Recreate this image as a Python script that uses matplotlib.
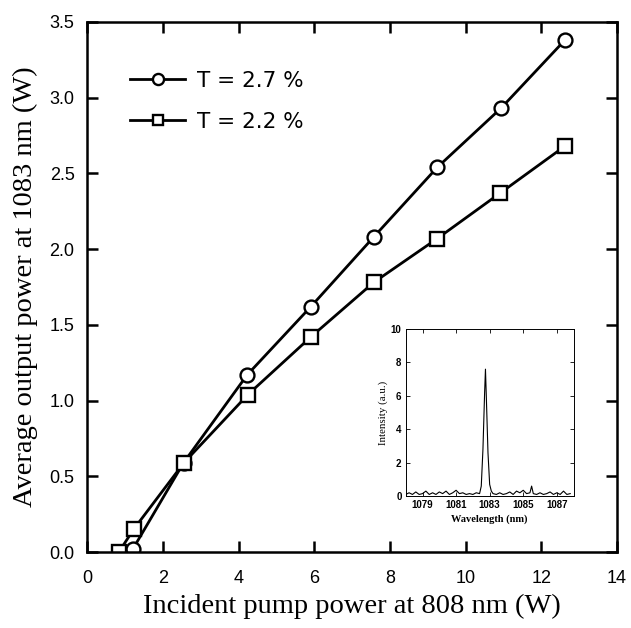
import matplotlib
matplotlib.use("Agg")
from matplotlib import pyplot as plt

# main curves
pump_27 = [1.21, 2.55, 4.23, 5.91, 7.57, 9.25, 10.93, 12.62]
power_27 = [0.02, 0.59, 1.17, 1.62, 2.08, 2.54, 2.93, 3.38]
pump_22 = [0.84, 1.23, 2.56, 4.25, 5.91, 7.57, 9.25, 10.91, 12.62]
power_22 = [0.0, 0.15, 0.59, 1.04, 1.42, 1.78, 2.07, 2.37, 2.68]

# inset spectrum, read by eye
wavelength = [1078.0, 1078.2, 1078.4, 1078.6, 1078.8, 1079.0, 1079.2, 1079.4,
              1079.6, 1079.8, 1080.0, 1080.2, 1080.4, 1080.6, 1080.8, 1081.0,
              1081.2, 1081.4, 1081.6, 1081.8, 1082.0, 1082.2, 1082.4, 1082.5,
              1082.6, 1082.7, 1082.75, 1082.8, 1082.9, 1083.0, 1083.1, 1083.2,
              1083.4, 1083.6, 1083.8, 1084.0, 1084.2, 1084.4, 1084.6, 1084.8,
              1085.0, 1085.2, 1085.4, 1085.5, 1085.6, 1085.8, 1086.0, 1086.2,
              1086.4, 1086.6, 1086.8, 1087.0, 1087.2, 1087.4, 1087.6, 1087.8]
intensity = [0.1, 0.2, 0.1, 0.25, 0.1, 0.15, 0.3, 0.1, 0.2, 0.1, 0.25, 0.15,
             0.3, 0.1, 0.2, 0.35, 0.15, 0.2, 0.1, 0.15, 0.1, 0.2, 0.15, 0.6,
             2.8, 6.2, 7.6, 6.0, 2.6, 0.7, 0.3, 0.15, 0.1, 0.2, 0.1, 0.15,
             0.25, 0.1, 0.3, 0.2, 0.35, 0.15, 0.2, 0.6, 0.15, 0.1, 0.2, 0.1,
             0.15, 0.25, 0.1, 0.2, 0.1, 0.3, 0.1, 0.15]

plt.rcParams["font.family"] = "Liberation Sans"

fig = plt.figure(figsize=(6.31, 6.28), dpi=100)
ax = fig.add_axes([0.138, 0.121, 0.840, 0.844])

ax.plot(pump_27, power_27, "k-", lw=2, marker="o", ms=10, mfc="white",
        mec="black", mew=1.7, label="T = 2.7 %")
ax.plot(pump_22, power_22, "k-", lw=2, marker="s", ms=9.5, mfc="white",
        mec="black", mew=1.7, label="T = 2.2 %")

ax.set_xlim(0, 14)
ax.set_ylim(0, 3.5)
ax.set_xticks(range(0, 15, 2))
ax.set_yticks([0.0, 0.5, 1.0, 1.5, 2.0, 2.5, 3.0, 3.5])
ax.set_yticklabels(["%.1f" % v for v in ax.get_yticks()])
ax.tick_params(direction="in", top=True, right=True, length=8, width=1.8,
               labelsize=13)
ax.tick_params(axis="x", pad=13)
ax.tick_params(axis="y", pad=9)
for s in ax.spines.values():
    s.set_linewidth(1.8)

ax.set_xlabel("Incident pump power at 808 nm (W)", family="Liberation Serif",
              fontsize=20.5, labelpad=5)
ax.set_ylabel("Average output power at 1083 nm (W)", family="Liberation Serif",
              fontsize=20.5, labelpad=8)

ax.legend(loc="upper left", bbox_to_anchor=(0.045, 0.945), frameon=False,
          handlelength=2.55, handletextpad=0.55, labelspacing=1.0,
          markerscale=0.8, prop={"family": "DejaVu Sans", "size": 15.5})

# inset
ins = fig.add_axes([0.643, 0.210, 0.266, 0.266])
ins.plot(wavelength, intensity, "k-", lw=0.8)
ins.set_xlim(1078, 1088)
ins.set_ylim(0, 10)
ins.set_xticks([1079, 1081, 1083, 1085, 1087])
ins.set_yticks([0, 2, 4, 6, 8, 10])
ins.tick_params(direction="in", top=True, right=True, length=3, width=0.6,
                labelsize=7, pad=3)
for t in ins.get_xticklabels() + ins.get_yticklabels():
    t.set_fontweight("bold")
for s in ins.spines.values():
    s.set_linewidth(0.7)
ins.set_xlabel("Wavelength (nm)", family="Liberation Serif", fontsize=7.5,
               fontweight="bold", labelpad=3)
ins.set_ylabel("Intensity (a.u.)", family="Liberation Serif", fontsize=7.8,
               labelpad=2)

fig.savefig("out.png", dpi=100)
